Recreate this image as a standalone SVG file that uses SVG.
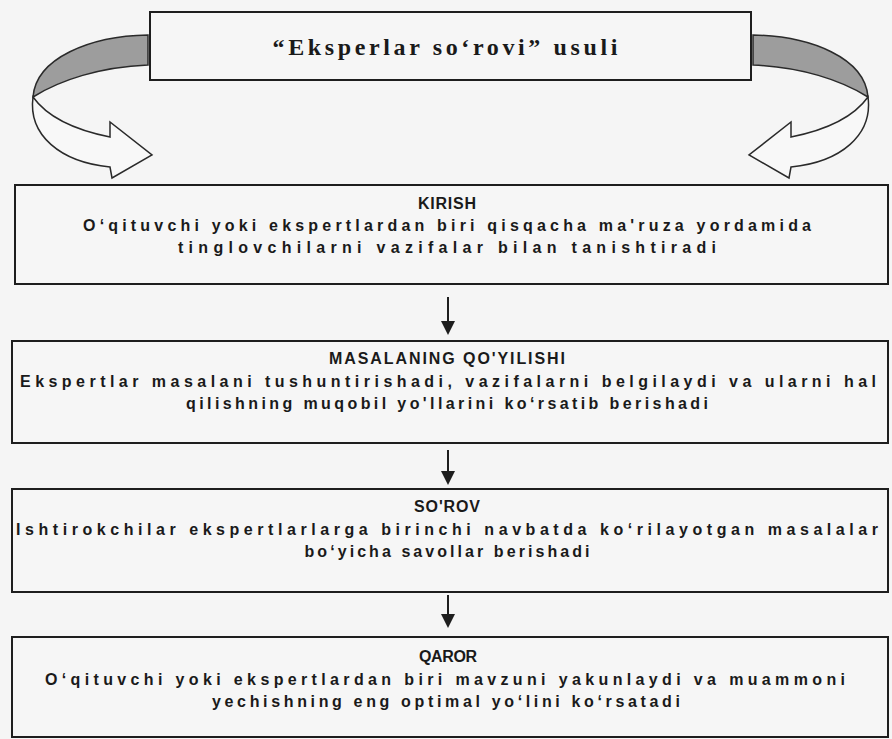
<svg xmlns="http://www.w3.org/2000/svg" width="892" height="739" viewBox="0 0 892 739">
<style>
.box{fill:#f6f6f6;stroke:#1e1e1e;stroke-width:2}
.t{font-family:"Liberation Sans",Arial,sans-serif;font-weight:bold;font-size:16px;fill:#1a1a1a;text-anchor:middle}
.ttl{font-family:"Liberation Serif","Times New Roman",serif;font-weight:bold;font-size:24px;fill:#1a1a1a;text-anchor:middle}
.band{fill:#9d9d9d;stroke:#2a2a2a;stroke-width:1.5}
.wh{fill:#f8f8f8;stroke:#2a2a2a;stroke-width:1.5}
.con{stroke:#1e1e1e;stroke-width:2;fill:none}
</style>
<defs>
<g id="curl">
<path class="band" d="M148,35 C90,36 36,58 33,97 C60,80 100,67 148,65 Z"/>
<path class="wh" d="M33,97 C28,135 60,162 110,167 L112,178 L152,155 L110,122 L110,137 C75,130 48,118 33,97 Z"/>
</g>
</defs>
<rect width="892" height="739" fill="#f5f5f5"/>

<g id="curl-left"><use href="#curl"/></g>
<g id="curl-right"><use href="#curl" transform="translate(901,0) scale(-1,1)"/></g>

<g id="title">
<rect class="box" x="150" y="12" width="601" height="68"/>
<text class="ttl" x="445" y="55" textLength="345" lengthAdjust="spacing">“Eksperlar so‘rovi” usuli</text>
</g>

<g id="connectors">
<path class="con" d="M448,297 L448,321"/>
<path d="M441,321 L455,321 L448,335 Z" fill="#1e1e1e"/>
<path class="con" d="M448,450 L448,471"/>
<path d="M441,471 L455,471 L448,485 Z" fill="#1e1e1e"/>
<path class="con" d="M448,595 L448,614"/>
<path d="M441,614 L455,614 L448,628 Z" fill="#1e1e1e"/>
</g>

<g id="kirish">
<rect class="box" x="15" y="185" width="873" height="99"/>
<text class="t" x="447" y="209" textLength="58" lengthAdjust="spacing">KIRISH</text>
<text class="t" x="447" y="231" textLength="728" lengthAdjust="spacing">O‘qituvchi yoki ekspertlardan biri qisqacha ma'ruza yordamida</text>
<text class="t" x="447" y="253" textLength="538" lengthAdjust="spacing">tinglovchilarni vazifalar bilan tanishtiradi</text>
</g>

<g id="masala">
<rect class="box" x="12" y="341" width="876" height="102"/>
<text class="t" x="447" y="364" textLength="236" lengthAdjust="spacing">MASALANING  QO'YILISHI</text>
<text class="t" x="448" y="387" textLength="856" lengthAdjust="spacing">Ekspertlar masalani tushuntirishadi, vazifalarni belgilaydi va ularni hal</text>
<text class="t" x="447" y="409" textLength="522" lengthAdjust="spacing">qilishning muqobil yo'llarini ko‘rsatib berishadi</text>
</g>

<g id="sorov">
<rect class="box" x="12" y="489" width="876" height="103"/>
<text class="t" x="447" y="512" textLength="66" lengthAdjust="spacing">SO'ROV</text>
<text class="t" x="447" y="535" textLength="862" lengthAdjust="spacing">Ishtirokchilar ekspertlarlarga birinchi navbatda ko‘rilayotgan masalalar</text>
<text class="t" x="447" y="557" textLength="285" lengthAdjust="spacing">bo‘yicha savollar berishadi</text>
</g>

<g id="qaror">
<rect class="box" x="12" y="637" width="876" height="100"/>
<text class="t" x="448" y="662" textLength="58" lengthAdjust="spacing">QAROR</text>
<text class="t" x="445" y="685" textLength="800" lengthAdjust="spacing">O‘qituvchi yoki ekspertlardan biri mavzuni yakunlaydi va muammoni</text>
<text class="t" x="446" y="707" textLength="468" lengthAdjust="spacing">yechishning eng optimal  yo‘lini ko‘rsatadi</text>
</g>
</svg>
